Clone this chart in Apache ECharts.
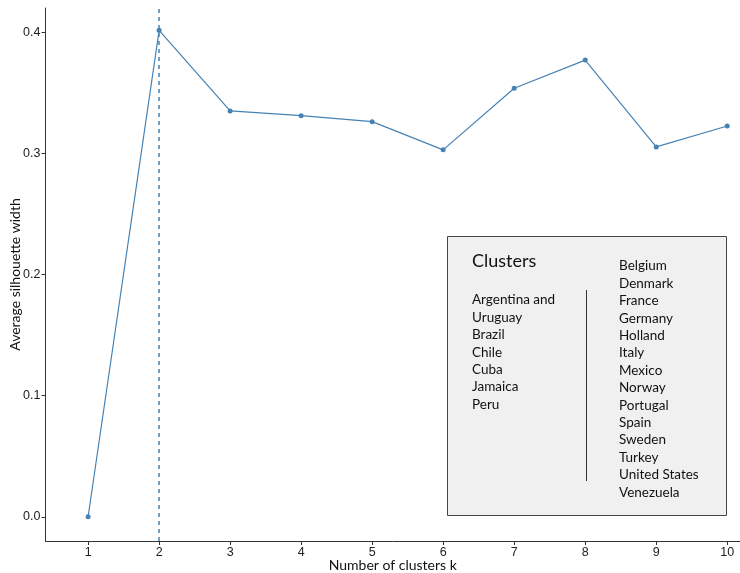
<!DOCTYPE html>
<html>
<head>
<meta charset="utf-8">
<script src="https://cdn.jsdelivr.net/npm/echarts@6/dist/echarts.min.js"></script>
<style>html,body{margin:0;padding:0;background:#fff;}#c{width:740px;height:573px;}</style>
</head>
<body>
<div id="c"></div>
<script>
const kValues = [1, 2, 3, 4, 5, 6, 7, 8, 9, 10];
const silhouette = [0.0, 0.4016, 0.335, 0.3311, 0.3262, 0.3029, 0.3537, 0.377, 0.3053, 0.3226];
const yTicks = [0, 0.1, 0.2, 0.3, 0.4];
const optimalK = 2;
const legendTitle = 'Clusters';
const clusterA = ['Argentina and', 'Uruguay', 'Brazil', 'Chile', 'Cuba', 'Jamaica', 'Peru'];
const clusterB = ['Belgium', 'Denmark', 'France', 'Germany', 'Holland', 'Italy', 'Mexico', 'Norway', 'Portugal', 'Spain', 'Sweden', 'Turkey', 'United States', 'Venezuela'];

const chart = echarts.init(document.getElementById('c'));
const lineColor = '#4682B4';
const lh = 17.4;
const textFont = '"Lato", "Open Sans", sans-serif';

const graphics = [
  { type: 'rect', shape: { x: 447.5, y: 236.5, width: 279, height: 279 },
    style: { fill: '#f0f0f0', stroke: '#444', lineWidth: 1 } },
  { type: 'text', x: 472, y: 261, style: { text: legendTitle, fontSize: 18, fontFamily: textFont, fill: '#111', verticalAlign: 'middle' } },
  { type: 'line', shape: { x1: 586.5, y1: 290, x2: 586.5, y2: 481 }, style: { stroke: '#333', lineWidth: 1 } }
];
clusterA.forEach((name, i) => {
  graphics.push({ type: 'text', x: 472, y: 300 + i * lh,
    style: { text: name, fontSize: 13.5, fontFamily: textFont, fill: '#111', verticalAlign: 'middle' } });
});
clusterB.forEach((name, i) => {
  graphics.push({ type: 'text', x: 619, y: 266 + i * lh,
    style: { text: name, fontSize: 13.5, fontFamily: textFont, fill: '#111', verticalAlign: 'middle' } });
});

chart.setOption({
  animation: false,
  backgroundColor: '#fff',
  grid: { left: 45.5, right: 0, top: 8, bottom: 32, containLabel: false, outerBoundsMode: 'none' },
  xAxis: {
    type: 'value', min: 0.4, max: 10.18,
    name: 'Number of clusters k', nameLocation: 'middle', nameGap: 17, nameMoveOverlap: false,
    nameTextStyle: { fontSize: 14, fontFamily: textFont, color: '#111' },
    axisLine: { show: true, onZero: false, lineStyle: { color: '#333', width: 1 } },
    axisTick: { show: true, length: 4, lineStyle: { color: '#333' }, customValues: kValues },
    axisLabel: { fontSize: 12.5, color: '#222', fontFamily: 'Liberation Sans, Arial, sans-serif', margin: 5, customValues: kValues },
    splitLine: { show: false }
  },
  yAxis: {
    type: 'value', min: -0.02, max: 0.42,
    name: 'Average silhouette width', nameLocation: 'middle', nameGap: 23, nameMoveOverlap: false,
    nameTextStyle: { fontSize: 14, fontFamily: textFont, color: '#111' },
    axisLine: { show: true, onZero: false, lineStyle: { color: '#333', width: 1 } },
    axisTick: { show: true, length: 4, lineStyle: { color: '#333' }, customValues: yTicks },
    axisLabel: { fontSize: 12.5, color: '#222', fontFamily: 'Liberation Sans, Arial, sans-serif', margin: 5, customValues: yTicks,
      formatter: v => v.toFixed(1) },
    splitLine: { show: false }
  },
  series: [{
    type: 'line',
    data: kValues.map((k, i) => [k, silhouette[i]]),
    symbol: 'circle', symbolSize: 5,
    itemStyle: { color: lineColor },
    lineStyle: { color: lineColor, width: 1.2 },
    markLine: {
      silent: true, symbol: 'none', label: { show: false },
      lineStyle: { color: lineColor, type: [4, 4], width: 1.5, opacity: 1 },
      data: [{ xAxis: optimalK, lineStyle: { color: lineColor } }]
    }
  }],
  graphic: graphics
});
</script>
</body>
</html>
